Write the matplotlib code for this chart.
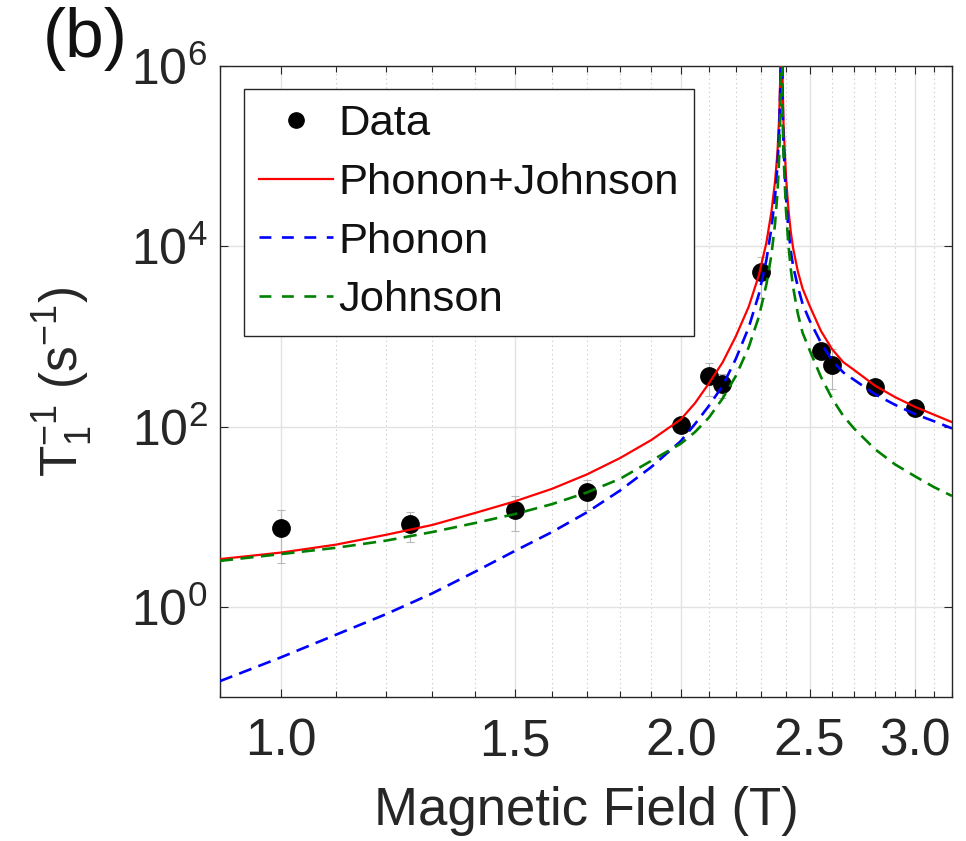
import matplotlib
matplotlib.use("Agg")
import matplotlib.pyplot as plt
import numpy as np
from matplotlib.ticker import FixedLocator, FixedFormatter, NullLocator, NullFormatter
from matplotlib.lines import Line2D

plt.rcParams['font.family'] = ['Liberation Sans', 'DejaVu Sans']
plt.rcParams['mathtext.fontset'] = 'custom'
plt.rcParams['mathtext.rm'] = 'Liberation Sans'
plt.rcParams['mathtext.it'] = 'Liberation Sans:italic'

# measured relaxation rates
field = [1.0, 1.25, 1.5, 1.7, 2.0, 2.1, 2.15, 2.3, 2.55, 2.6, 2.8, 3.0]
rate = [7.5, 8.3, 11.9, 18.8, 105, 361, 297, 5170, 684, 488, 273, 159]
rate_err = [4.4, 3.0, 5.0, 7.0, 10, 145, 90, 2500, 100, 230, 40, 20]

# model curves (field in T, rate in 1/s)
field_fit = [0.90, 1.00, 1.10, 1.20, 1.30, 1.40, 1.50, 1.60, 1.70, 1.80, 1.90, 2.00,
             2.05, 2.10, 2.15, 2.20, 2.25, 2.29, 2.32, 2.34, 2.355, 2.365, 2.372, 2.377, 2.381,
             2.383, 2.386, 2.39, 2.40, 2.41, 2.42, 2.43, 2.45, 2.47, 2.50, 2.55, 2.60, 2.65,
             2.70, 2.80, 2.90, 3.00, 3.10, 3.20]
phonon = [0.15, 0.275, 0.49, 0.83, 1.41, 2.45, 4.17, 6.76, 11.2, 19.5, 35.5, 69,
          107, 170, 282, 562, 1260, 2950, 7080, 15800, 35500, 79400, 2.0e5, 6.3e5, 4e6,
          4e6, 4e5, 1.26e5, 35500, 15500, 8900, 6000, 3550, 2300, 1510, 850, 540, 400,
          331, 229, 174, 138, 115, 95.5]
johnson = [3.24, 3.85, 4.52, 5.43, 6.76, 8.51, 10.7, 13.8, 18.6, 26.3, 41.7, 64.6,
           87, 126, 204, 363, 760, 1660, 3800, 7940, 17800, 39800, 1.0e5, 3.16e5, 3e6,
           3e6, 3.16e5, 1.0e5, 25100, 10500, 5620, 3500, 1780, 1100, 708, 355, 204, 132,
           95.5, 56.2, 38, 28.2, 21.4, 17]
total = [3.39, 4.0, 4.9, 6.3, 8.1, 11.0, 14.8, 20.4, 29.5, 44.7, 70.8, 120,
         182, 302, 513, 1000, 2140, 4790, 11000, 24000, 52500, 1.12e5, 2.8e5, 8.9e5, 5e6,
         7e6, 7e5, 2.2e5, 60000, 26000, 14500, 9500, 5250, 3400, 2200, 1150, 720, 520,
         426, 285, 212, 166, 136, 112]

fig = plt.figure(figsize=(9.66, 8.41), dpi=100)
ax = fig.add_axes([0.2277, 0.1712, 0.7578, 0.7503])

dash = (0, (5.0, 2.8))
ax.errorbar(field, rate, yerr=rate_err, fmt='none', ecolor='#b8b8b8',
            elinewidth=0.8, capsize=3.2, capthick=0.8, zorder=2)
ax.plot(field, rate, 'o', color='k', ms=12.5, zorder=3)
ax.plot(field_fit, total, color='r', lw=1.6, zorder=4)
ax.plot(field_fit, phonon, color='b', lw=1.9, ls=dash, zorder=5)
ax.plot(field_fit, johnson, color=(0, 0.5, 0), lw=1.9, ls=dash, zorder=6)

ax.set_xscale('log')
ax.set_yscale('log')
ax.set_xlim(0.9, 3.2)
ax.set_ylim(1e-1, 1e6)

xmaj = [1.0, 1.5, 2.0, 2.5, 3.0]
xmin = [v for v in np.round(np.arange(0.9, 3.25, 0.1), 1) if v not in xmaj]
ax.xaxis.set_major_locator(FixedLocator(xmaj))
ax.xaxis.set_major_formatter(FixedFormatter(['1.0', '1.5', '2.0', '2.5', '3.0']))
ax.xaxis.set_minor_locator(FixedLocator(xmin))
ax.xaxis.set_minor_formatter(NullFormatter())
ymaj = [1e0, 1e2, 1e4, 1e6]
ax.yaxis.set_major_locator(FixedLocator(ymaj))
ax.yaxis.set_major_formatter(FixedFormatter([r'$\mathregular{10^{%d}}$' % p for p in (0, 2, 4, 6)]))
ax.yaxis.set_minor_locator(NullLocator())

ax.set_axisbelow(True)
ax.grid(True, which='major', color='#e2e2e2', lw=1.0, ls='-')
ax.grid(True, which='minor', axis='x', color='#c4c4c4', lw=0.8, ls=(0, (1, 3)))

for s in ax.spines.values():
    s.set_color('#262626')
    s.set_linewidth(1.0)
ax.tick_params(which='both', direction='in', top=True, right=True, colors='#262626',
               labelcolor='#262626', width=0.8)
ax.tick_params(which='major', length=6)
ax.tick_params(which='minor', length=4)
ax.tick_params(axis='x', labelsize=37, pad=15)
ax.tick_params(axis='y', labelsize=36, pad=9)

ax.set_xlabel('Magnetic Field (T)', fontsize=38, color='#262626', labelpad=14)
ax.set_ylabel(r'$\mathregular{T_1^{-1}}$ (s$^{-1}$)', fontsize=37, color='#262626', labelpad=26)

handles = [
    Line2D([], [], marker='o', color='k', ls='none', ms=11),
    Line2D([], [], color='r', lw=1.6),
    Line2D([], [], color='b', lw=1.9, ls=(0, (4.5, 4.0))),
    Line2D([], [], color=(0, 0.5, 0), lw=1.9, ls=(0, (4.5, 4.0))),
]
leg = ax.legend(handles, ['Data', 'Phonon+Johnson', 'Phonon', 'Johnson'],
                loc='upper left', bbox_to_anchor=(0.0328, 0.9635), borderaxespad=0,
                fontsize=31.3, handlelength=1.7, handletextpad=0.13, labelspacing=0.43,
                borderpad=0.35, fancybox=False, framealpha=1, edgecolor='#262626')
leg.get_frame().set_linewidth(1.0)
for t in leg.get_texts():
    t.set_color('#111111')

fig.text(0.044, 0.992, '(b)', fontsize=50, va='top', ha='left', color='#111111')

fig.savefig('out.png', dpi=100)
